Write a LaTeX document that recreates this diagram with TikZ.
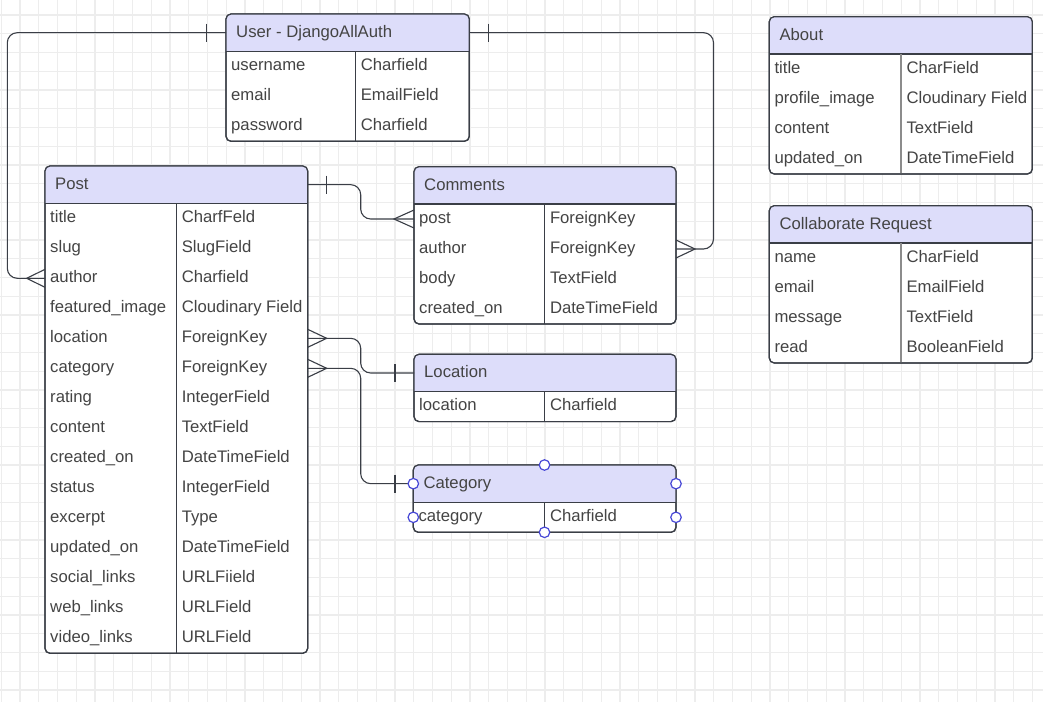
\documentclass[tikz,border=0pt]{standalone}
\usepackage{fontspec}
\setmainfont{Liberation Sans}

\definecolor{linec}{RGB}{58,62,70}
\definecolor{headfill}{RGB}{221,221,250}
\definecolor{gridc}{RGB}{237,237,237}
\definecolor{textc}{RGB}{68,68,68}
\definecolor{handlec}{RGB}{72,72,214}

\tikzset{
  gridline/.style={draw=gridc, line width=1.1pt},
  erdbox/.style={draw=linec, line width=1.2pt, rounded corners=5pt, fill=white,
                 inner sep=0pt, outer sep=0pt, anchor=north west},
  rule/.style={draw=linec, line width=1.2pt},
  softrule/.style={draw=black!45, line width=1.5pt},
  headtext/.style={anchor=base west, inner sep=0pt, text=textc,
                   font=\fontsize{16.7}{20}\selectfont},
  celltext/.style={headtext},
  rel/.style={draw=linec, line width=1.1pt, rounded corners=10pt},
  relmark/.style={draw=linec, line width=1.1pt},
  handle/.style={circle, draw=handlec, fill=white, line width=1.2pt,
                 minimum size=10.5pt, inner sep=0pt},
}

% #1 name, #2 left, #3 top, #4 right, #5 column divider, #6 rows,
% #7 title, #8 divider style, #9 field/type list
\newcommand\erdtable[9]{%
  \pgfmathsetmacro\hb{#3+37.3}%
  \pgfmathsetmacro\bt{\hb+30*#6}%
  \node[erdbox, minimum width={(#4-#2)*1pt}, minimum height={(\bt-#3)*1pt}] (#1) at (#2,#3) {};
  \begin{scope}
    \clip[rounded corners=5pt] (#1.north west) rectangle (#1.south east);
    \fill[headfill] (#1.north west) rectangle (#4,\hb);
  \end{scope}
  \draw[rule] (#2,\hb) -- (#4,\hb);
  \draw[#8] (#5,\hb) -- (#5,\bt);
  \draw[draw=linec, line width=1.2pt, rounded corners=5pt] (#1.north west) rectangle (#1.south east);
  \node[headtext] (#1-title) at (#2+10,\hb-14) {#7};
  \foreach \f/\t [count=\i] in {#9} {
    \node[celltext] (#1-f\i) at (#2+5,\hb+30*\i-11) {\f};
    \node[celltext] (#1-t\i) at (#5+5.3,\hb+30*\i-11) {\t};
  }%
}

% crow's foot (many) at an entity edge; #2 = signed distance of the apex
\newcommand\crowfoot[2]{%
  \draw[relmark] ([yshift=9pt]#1) -- ([xshift=#2 pt]#1) -- ([yshift=-9pt]#1);}
% single bar (one) across a connector; #2 = signed distance from the edge
\newcommand\onebar[2]{%
  \draw[relmark] ([xshift=#2 pt, yshift=9pt]#1) -- ([xshift=#2 pt, yshift=-9pt]#1);}

\begin{document}
\begin{tikzpicture}[x=1pt, y=-1pt]
  \useasboundingbox (0,0) rectangle (1043,702);
  \fill[white] (0,0) rectangle (1043,702);

  % background grid
  \foreach \k in {0,...,55} \draw[gridline] (1.25+18.75*\k,0) -- (1.25+18.75*\k,702);
  \foreach \k in {0,...,36} \draw[gridline] (0,15+18.75*\k) -- (1043,15+18.75*\k);

  % entities
  \erdtable{user}{226}{14}{469.3}{355.3}{3}{User - DjangoAllAuth}{rule}
    {username/Charfield, email/EmailField, password/Charfield}
  \erdtable{post}{45}{166}{307.7}{176.3}{15}{Post}{rule}
    {title/CharfFeld, slug/SlugField, author/Charfield,
     featured\_image/Cloudinary Field, location/ForeignKey, category/ForeignKey,
     rating/IntegerField, content/TextField, created\_on/DateTimeField,
     status/IntegerField, excerpt/Type, updated\_on/DateTimeField,
     social\_links/URLFiield, web\_links/URLField, video\_links/URLField}
  \erdtable{comments}{414}{166.7}{676}{544.5}{4}{Comments}{rule}
    {post/ForeignKey, author/ForeignKey, body/TextField, created\_on/DateTimeField}
  \erdtable{location}{414}{354.3}{676}{544.5}{1}{Location}{rule}
    {location/Charfield}
  \erdtable{category}{413.3}{465}{676}{544.5}{1}{Category}{rule}
    {category/Charfield}
  \erdtable{about}{769.3}{16.7}{1032.3}{901}{4}{About}{softrule}
    {title/CharField, profile\_image/Cloudinary Field, content/TextField,
     updated\_on/DateTimeField}
  \erdtable{collab}{769.3}{205.7}{1032.3}{901}{4}{Collaborate Request}{softrule}
    {name/CharField, email/EmailField, message/TextField, read/BooleanField}

  % connector end points on entity edges
  \coordinate (user-hl) at (226,32.65);
  \coordinate (user-hr) at (469.3,32.65);
  \coordinate (post-hr) at (307.7,184.65);
  \coordinate (post-author) at (45,278.3);
  \coordinate (post-loc) at (307.7,338.3);
  \coordinate (post-cat) at (307.7,368.3);
  \coordinate (comm-post) at (414,219);
  \coordinate (comm-author) at (676,249);
  \coordinate (loc-hl) at (414,373);
  \coordinate (cat-hl) at (413.3,483.65);

  % relationships
  \draw[rel] (user-hl) -- (7.3,32.65) -- (7.3,278.3) -- (post-author);
  \onebar{user-hl}{-19.3}
  \crowfoot{post-author}{-18.3}

  \draw[rel] (user-hr) -- (713.5,32.65) -- (713.5,249) -- (comm-author);
  \onebar{user-hr}{19}
  \crowfoot{comm-author}{19}

  \draw[rel] (post-hr) -- (360.7,184.65) -- (360.7,219) -- (comm-post);
  \onebar{post-hr}{19}
  \crowfoot{comm-post}{-20}

  \draw[rel] (post-loc) -- (360.7,338.3) -- (360.7,373) -- (loc-hl);
  \crowfoot{post-loc}{19}
  \onebar{loc-hl}{-19}

  \draw[rel] (post-cat) -- (360.7,368.3) -- (360.7,483.65) -- (cat-hl);
  \crowfoot{post-cat}{19}
  \onebar{cat-hl}{-18.3}

  % selection handles on the Category entity
  \node[handle] (h1) at (cat-hl) {};
  \node[handle] (h2) at (676,483.65) {};
  \node[handle] (h3) at (544.5,465) {};
  \node[handle] (h4) at (544.5,532.3) {};
  \node[handle] (h5) at (413.3,517.3) {};
  \node[handle] (h6) at (676,517.3) {};
\end{tikzpicture}
\end{document}
